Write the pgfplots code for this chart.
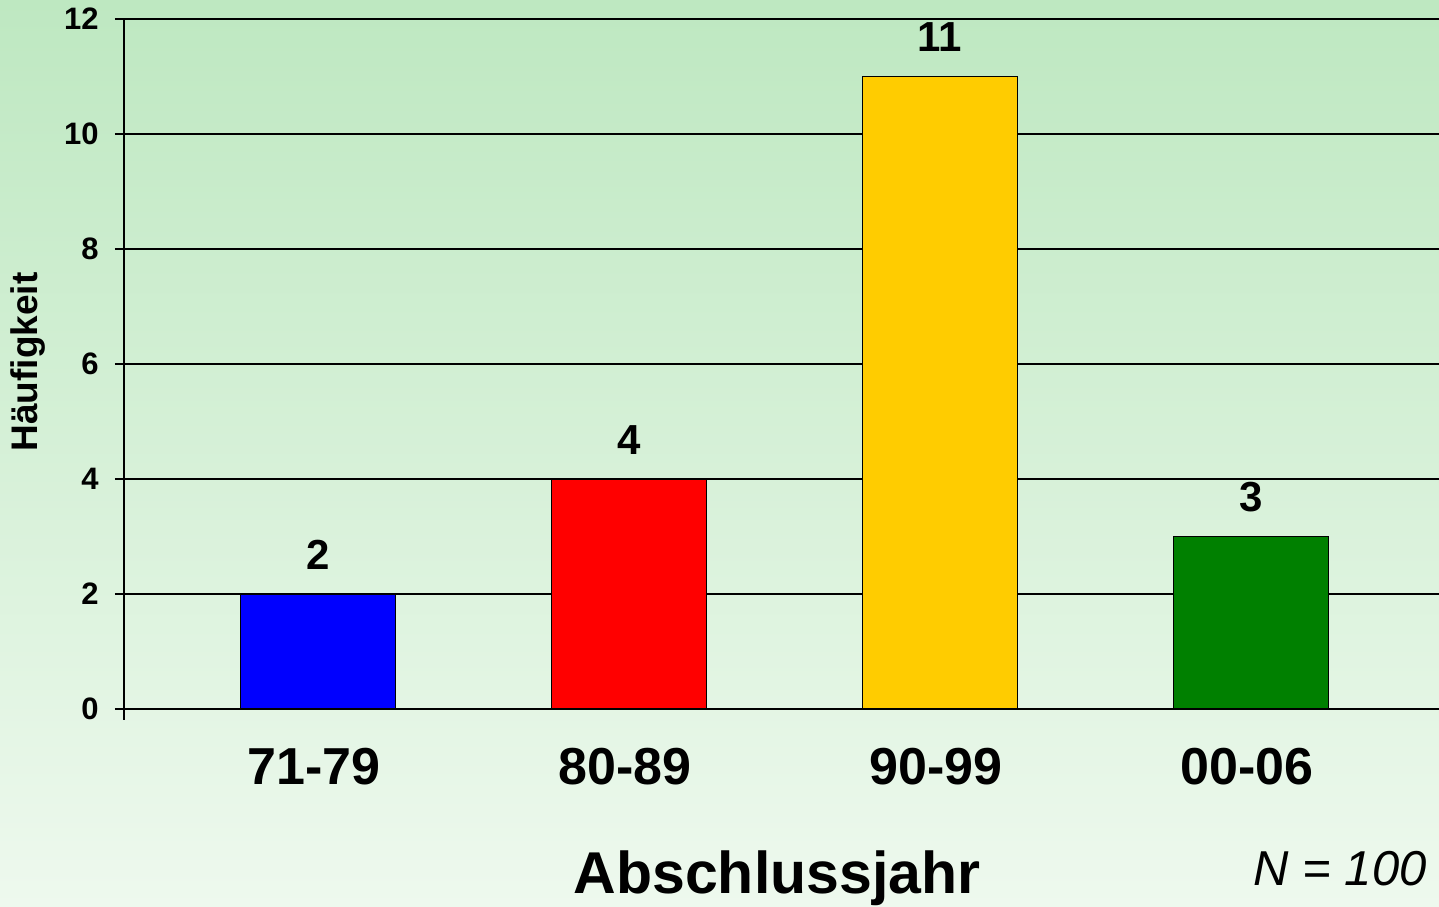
\documentclass[border=0pt]{standalone}
\usepackage{fontspec}
\setmainfont{Liberation Sans}
\usepackage{pgfplots}
\pgfplotsset{compat=1.18}
\definecolor{bgtop}{RGB}{190,232,193}
\definecolor{bgbot}{RGB}{238,249,238}
\definecolor{cblue}{RGB}{0,0,255}
\definecolor{cred}{RGB}{255,0,0}
\definecolor{cgold}{RGB}{255,204,0}
\definecolor{cgreen}{RGB}{0,128,0}
\begin{document}
\begin{tikzpicture}
\useasboundingbox (0,0) rectangle (719.5bp,453.5bp);
\shade[top color=bgtop, bottom color=bgbot] (0,0) rectangle (719.5bp,453.5bp);
\begin{axis}[
  at={(62bp,99bp)}, anchor=south west,
  scale only axis, width=657.5bp, height=345bp,
  xmin=-0.624, xmax=3.605, ymin=0, ymax=12,
  axis lines=left, axis line style={-, line width=1bp, black},
  ytick={0,2,4,6,8,10,12},
  xtick={0,1,2,3}, xticklabels={71-79,80-89,90-99,00-06},
  ymajorgrids, grid style={black, line width=0.9bp},
  tick align=outside, major tick length=4.5bp,
  ytick style={black, line width=1bp},
  xtick style={draw=none},
  extra x ticks={-0.624}, extra x tick labels={},
  extra x tick style={xtick style={draw=black, line width=1bp}, major tick length=5.5bp, grid=none},
  /pgf/number format/assume math mode=true,
  yticklabel style={font=\fontsize{15.5bp}{18bp}\selectfont\bfseries, anchor=east, inner sep=0pt, xshift=-8bp},
  xticklabel style={font=\fontsize{26bp}{30bp}\selectfont\bfseries, anchor=base, inner sep=0pt, yshift=-33.5bp, xshift=-2bp},
  ybar, bar width=77.5bp,
  nodes near coords,
  every node near coord/.append style={font=\fontsize{21bp}{24bp}\selectfont\bfseries, inner sep=0pt, yshift=12bp, black},
  clip=false,
]
\addplot[fill=cblue, draw=black, line width=0.75bp, bar shift=0pt] coordinates {(0,2)};
\addplot[fill=cred, draw=black, line width=0.75bp, bar shift=0pt] coordinates {(1,4)};
\addplot[fill=cgold, draw=black, line width=0.75bp, bar shift=0pt] coordinates {(2,11)};
\addplot[fill=cgreen, draw=black, line width=0.75bp, bar shift=0pt] coordinates {(3,3)};
\end{axis}
\node[rotate=90, font=\fontsize{18.5bp}{22bp}\selectfont\bfseries] at (14bp,272.5bp) {Häufigkeit};
\node[anchor=base, inner sep=0pt, font=\fontsize{29.5bp}{33bp}\selectfont\bfseries] at (388.5bp,7bp) {Abschlussjahr};
\node[anchor=base east, inner sep=0pt, font=\fontsize{24.5bp}{28bp}\selectfont\itshape] at (713.5bp,11bp) {N = 100};
\end{tikzpicture}
\end{document}
